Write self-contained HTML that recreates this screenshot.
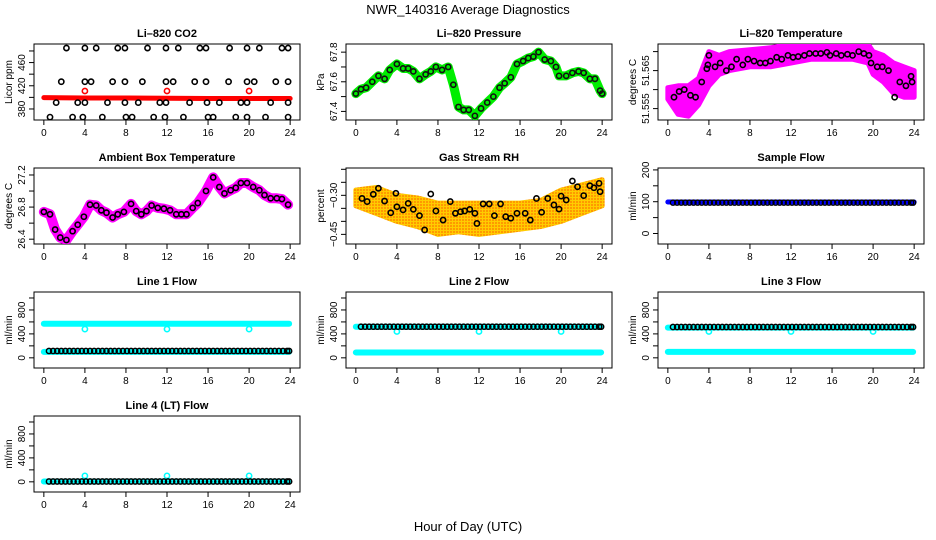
<!DOCTYPE html>
<html><head><meta charset="utf-8">
<style>
html,body{margin:0;padding:0;background:#fff;}
svg{display:block;font-family:"Liberation Sans",sans-serif;}
</style></head>
<body>
<svg id="chart" width="936" height="540" viewBox="0 0 936 540" xmlns="http://www.w3.org/2000/svg">
<defs>
<pattern id="rhpat" width="3" height="3" patternUnits="userSpaceOnUse">
<rect width="3" height="3" fill="#ffcc00"/><rect width="2" height="2" fill="#ff9900"/>
</pattern>
</defs>
<text x="468" y="14" font-size="13" text-anchor="middle">NWR_140316  Average Diagnostics</text>
<text x="468" y="531" font-size="13" text-anchor="middle">Hour of Day (UTC)</text>
</svg>
<script>
// ---------- data ----------
const hourTicks = [0,4,8,12,16,20,24];
// CO2
const co2Hours = [2.2,4.0,5.1,7.2,7.9,10.1,11.9,13.1,15.2,15.8,18.1,19.8,21.0,23.2,23.8,
 1.7,4.0,4.6,6.7,7.9,9.6,11.9,12.6,14.7,15.8,18.0,19.8,20.5,22.6,23.8,
 1.2,3.3,4.0,6.2,7.9,9.2,11.3,11.9,14.2,15.9,17.1,19.2,19.8,22.1,23.8,
 0.6,2.8,3.8,5.7,8.0,8.6,10.7,11.8,13.6,16.0,16.5,18.7,19.8,21.6,23.8];
const co2Values = [485,485,485,485,485,485,485,485,485,485,485,485,485,485,485,
 427,427,427,427,427,427,427,427,427,427,427,427,427,427,427,
 391,391,391,391,391,391,391,391,391,391,391,391,391,391,391,
 366,366,366,366,366,366,366,366,366,366,366,366,366,366,366];
const co2RedHours = [0,4,8,12,16,20,24];
const co2RedValues = [399.5,399,399,398.5,398,398,398];
const co2RedOutHours = [4,12,20];
const co2RedOutValues = [411,411,411];
// Pressure
const presHours = [0,0.5,1,1.6,2.2,2.8,3.3,4,4.6,5.1,5.6,6.2,6.8,7.3,7.8,8.4,9,9.5,10,10.5,11,11.6,12.2,12.8,13.4,14,14.5,15.1,15.7,16.3,16.8,17.3,17.8,18.4,19,19.5,19.8,20.5,21.1,21.7,22.2,22.8,23.3,23.8,24];
const presValues = [67.52,67.55,67.56,67.6,67.64,67.62,67.68,67.72,67.69,67.69,67.67,67.62,67.65,67.67,67.7,67.68,67.7,67.58,67.43,67.41,67.41,67.37,67.42,67.46,67.5,67.56,67.59,67.63,67.72,67.74,67.76,67.77,67.8,67.75,67.74,67.7,67.64,67.64,67.66,67.67,67.66,67.62,67.62,67.54,67.52];
// Li-820 temperature
const ltHours = [0.6,1.1,1.6,2.2,2.7,3.3,3.8,3.9,4,4.6,5.1,5.7,6.2,6.7,7.3,7.8,8.4,9,9.5,10,10.6,11.1,11.7,12.2,12.7,13.3,13.8,14.4,14.9,15.5,15.8,16.4,16.9,17.5,18,18.6,19.1,19.6,19.8,20.4,20.9,21.5,22.1,22.6,23.2,23.7,23.8];
const ltValues = [51.558,51.5595,51.560,51.5585,51.558,51.562,51.5655,51.5665,51.569,51.566,51.567,51.565,51.566,51.568,51.5665,51.568,51.5675,51.567,51.567,51.5675,51.5685,51.568,51.569,51.5685,51.5687,51.569,51.5695,51.5695,51.5695,51.5698,51.569,51.5695,51.569,51.5693,51.569,51.570,51.5695,51.569,51.567,51.566,51.566,51.565,51.558,51.562,51.561,51.5635,51.562];
const ltBandHours = [0,1,2,3,4,5,6,8,10,12,14,16,18,19.5,20,21,22,23,24];
const ltBandLo = [51.5575,51.5535,51.553,51.556,51.561,51.564,51.565,51.566,51.566,51.567,51.568,51.568,51.568,51.567,51.564,51.562,51.559,51.558,51.558];
const ltBandHi = [51.5605,51.561,51.561,51.563,51.570,51.569,51.570,51.5705,51.571,51.572,51.572,51.572,51.572,51.572,51.570,51.569,51.567,51.566,51.565];
// Ambient box temperature
const abHours = [0,0.6,1.1,1.6,2.2,2.8,3.3,3.9,4.5,5.1,5.6,6.1,6.7,7.2,7.8,8.5,9,9.5,10,10.5,11.1,11.7,12.3,12.9,13.4,13.9,14.5,15,15.8,16.5,17.1,17.6,18.2,18.7,19.2,19.8,20.4,21,21.5,22.1,22.7,23.2,23.8];
const abValues = [26.74,26.71,26.52,26.42,26.39,26.5,26.58,26.68,26.83,26.82,26.76,26.73,26.67,26.71,26.74,26.84,26.75,26.71,26.75,26.82,26.79,26.78,26.76,26.71,26.71,26.71,26.79,26.85,27.0,27.17,27.05,26.97,27.01,27.04,27.1,27.1,27.05,27.01,26.95,26.91,26.91,26.9,26.83];
// Gas stream RH
const rhHours = [0.6,1.1,1.7,2.2,2.8,3.4,3.9,4,4.6,5.1,5.6,6.2,6.7,7.3,7.8,8.5,9.2,9.7,10.2,10.6,11.1,11.6,11.8,12.4,13,13.5,14.1,14.6,15.1,15.7,16.5,17,17.6,18.1,18.7,19.3,19.8,20,20.5,21.1,21.6,22.2,22.8,23.2,23.7,23.8];
const rhValues = [-0.312,-0.324,-0.296,-0.273,-0.322,-0.367,-0.292,-0.344,-0.356,-0.331,-0.354,-0.378,-0.433,-0.295,-0.36,-0.395,-0.324,-0.369,-0.363,-0.36,-0.354,-0.369,-0.408,-0.333,-0.333,-0.378,-0.333,-0.382,-0.388,-0.369,-0.369,-0.395,-0.312,-0.365,-0.312,-0.337,-0.353,-0.303,-0.318,-0.245,-0.267,-0.301,-0.263,-0.271,-0.254,-0.286];
const rhBandHours = [0,2,4,6,8,10,12,14,16,18,20,22,24];
const rhBandLo = [-0.34,-0.37,-0.40,-0.42,-0.45,-0.44,-0.45,-0.44,-0.43,-0.42,-0.40,-0.37,-0.34];
const rhBandHi = [-0.28,-0.27,-0.30,-0.31,-0.33,-0.33,-0.33,-0.33,-0.33,-0.32,-0.28,-0.26,-0.24];
// Flows
const flowHours = [0.5,0.9,1.3,1.7,2.1,2.5,2.9,3.3,3.7,4.1,4.5,4.9,5.3,5.7,6.1,6.5,6.9,7.3,7.7,8.1,8.5,8.9,9.3,9.7,10.1,10.5,10.9,11.3,11.7,12.1,12.5,12.9,13.3,13.7,14.1,14.5,14.9,15.3,15.7,16.1,16.5,16.9,17.3,17.7,18.1,18.5,18.9,19.3,19.7,20.1,20.5,20.9,21.3,21.7,22.1,22.5,22.9,23.3,23.7,23.9];
const sampleBlack = 97, sampleBlue = 99;
const line1Black = 115, line1CyanHi = 570, line1CyanLo = 100, line1Out = 480;
const line2Black = 520, line2CyanHi = 520, line2CyanLo = 90, line2Out = 440;
const line3Black = 515, line3CyanHi = 505, line3CyanLo = 100, line3Out = 440;
const line4Black = 5, line4Cyan = 5, line4Out = 100;
const outlierHours = [4,12,20];

// ---------- helpers ----------
const NS = "http://www.w3.org/2000/svg";
const svg = document.getElementById("chart");
function mk(tag, attrs, parent){const e=document.createElementNS(NS,tag);for(const k in attrs)e.setAttribute(k,attrs[k]);(parent||svg).appendChild(e);return e;}

function panel(name, title, left, top, ymin, ymax, ticks, labels, ytitle){
  const W=266,H=76;
  const g=mk("g",{});
  
  
  const xs=h=>left+(h+0.96)/25.92*W;
  const ys=v=>top+H-(v-ymin)/(ymax-ymin)*H;
  const t=mk("text",{x:left+W/2,y:top-7,"font-size":"11","font-weight":"bold","text-anchor":"middle"},g);
  t.textContent=title;
  
  
  const box=mk("rect",{x:left,y:top,width:W,height:H,fill:"none",stroke:"#000","stroke-width":"1"},g);
  
  
  hourTicks.forEach(h=>{
    mk("line",{x1:xs(h),x2:xs(h),y1:top+H,y2:top+H+5,stroke:"#000"},g);
    const l=mk("text",{x:xs(h),y:top+H+16,"font-size":"10","text-anchor":"middle"},g);
    l.textContent=h;
    
    
  });
  ticks.forEach(v=>{
    const y=ys(v); if(y<top-0.5||y>top+H+0.5) return;
    mk("line",{x1:left-5,x2:left,y1:y,y2:y,stroke:"#000"},g);
  });
  labels.forEach(lb=>{
    const y=ys(lb.v);
    const l=mk("text",{x:0,y:0,"font-size":"10","text-anchor":"middle",transform:`translate(${left-9},${y}) rotate(-90)`},g);
    l.textContent=lb.t;
    
    
  });
  const yt=mk("text",{x:0,y:0,"font-size":"10","text-anchor":"middle",transform:`translate(${left-22},${top+H/2}) rotate(-90)`},g);
  yt.textContent=ytitle;
  
  
  const clip=mk("clipPath",{id:"c-"+name},g);
  mk("rect",{x:left,y:top,width:W,height:H},clip);
  const inner=mk("g",{"clip-path":`url(#c-${name})`},g);
  return {xs,ys,g:inner};
}
function circles(p, hs, vs, color, name, sw){
  hs.forEach((h,i)=>{
    const c=mk("circle",{cx:p.xs(h),cy:p.ys(vs[i]),r:2.6,fill:"none",stroke:color,"stroke-width":sw||1.6},p.g);
    
    
  });
}
function band(p, hs, lo, hi, fill, name){
  let d="M"+hs.map((h,i)=>p.xs(h)+","+p.ys(hi[i])).join("L");
  d+="L"+hs.slice().reverse().map((h,i)=>p.xs(h)+","+p.ys(lo[hs.length-1-i])).join("L")+"Z";
  const e=mk("path",{d,fill,stroke:fill,"stroke-width":"5","stroke-linejoin":"round"},p.g);
  
  
}
function thickLine(p, hs, vs, color, w, name){
  const e=mk("polyline",{points:hs.map((h,i)=>p.xs(h)+","+p.ys(vs[i])).join(" "),fill:"none",stroke:color,"stroke-width":w,"stroke-linejoin":"round","stroke-linecap":"round"},p.g);
  
  
}
const L1=34,L2=346,L3=658, T1=44,T2=168,T3=292,T4=416;
const flowTicks=[0,200,400,600,800,1000], flowLabels=[{v:0,t:"0"},{v:400,t:"400"},{v:800,t:"800"}];

// CO2
let p=panel("co2","Li\u2013820 CO2",L1,T1,361,492,[380,400,420,440,460,480],[{v:380,t:"380"},{v:420,t:"420"},{v:460,t:"460"}],"Licor ppm");
thickLine(p,co2RedHours,co2RedValues,"#ff0000",5,"co2-red-series");
circles(p,co2RedOutHours,co2RedOutValues,"#ff0000","co2-red-outlier");
circles(p,co2Hours,co2Values,"#000","co2-point");

// Pressure
p=panel("pressure","Li\u2013820 Pressure",L2,T1,67.342,67.855,[67.4,67.5,67.6,67.7,67.8],[{v:67.4,t:"67.4"},{v:67.6,t:"67.6"},{v:67.8,t:"67.8"}],"kPa");
thickLine(p,presHours,presValues,"#00ee00",9,"pressure-green-series");
circles(p,presHours,presValues,"#111","pressure-point");

// Li-820 temp
p=panel("li820-temp","Li\u2013820 Temperature",L3,T1,51.552,51.572,[51.555,51.56,51.565,51.57],[{v:51.555,t:"51.555"},{v:51.565,t:"51.565"}],"degrees C");
band(p,ltBandHours,ltBandLo,ltBandHi,"#ff00ff","li820-temp-magenta-series");
circles(p,ltHours,ltValues,"#000","li820-temp-point");

// Ambient
p=panel("ambient","Ambient Box Temperature",L1,T2,26.34,27.287,[26.4,26.6,26.8,27.0,27.2],[{v:26.4,t:"26.4"},{v:26.8,t:"26.8"},{v:27.2,t:"27.2"}],"degrees C");
thickLine(p,abHours,abValues,"#ff00ff",10,"ambient-magenta-series");
circles(p,abHours,abValues,"#000","ambient-point");

// RH
p=panel("rh","Gas Stream RH",L2,T2,-0.487,-0.195,[-0.45,-0.4,-0.35,-0.3,-0.25,-0.2],[{v:-0.45,t:"\u22120.45"},{v:-0.3,t:"\u22120.30"}],"percent");
band(p,rhBandHours,rhBandLo,rhBandHi,"url(#rhpat)","rh-orange-series");
circles(p,rhHours,rhValues,"#000","rh-point");

// Sample flow
p=panel("sample-flow","Sample Flow",L3,T2,-33,206,[0,50,100,150,200],[{v:0,t:"0"},{v:100,t:"100"},{v:200,t:"200"}],"ml/min");
thickLine(p,[0,24],[sampleBlue,sampleBlue],"#0000ff",5,"sample-flow-blue-series");
circles(p,flowHours,flowHours.map(()=>sampleBlack),"#000","sample-flow-point",1.3);

// Line flows
function flowPanel(name,title,left,top,black,cyanHi,cyanLo,out){
  const q=panel(name,title,left,top,-170,1100,flowTicks,flowLabels,"ml/min");
  if(cyanHi!==null) thickLine(q,[0,23.9],[cyanHi,cyanHi],"#00ffff",6,name+"-cyan-high");
  thickLine(q,[0,23.9],[cyanLo,cyanLo],"#00ffff",6,name+"-cyan-low");
  circles(q,outlierHours,outlierHours.map(()=>out),"#00ffff",name+"-cyan-outlier");
  circles(q,flowHours,flowHours.map(()=>black),"#000",name+"-point",1.5);
}
flowPanel("line1-flow","Line 1 Flow",L1,T3,line1Black,line1CyanHi,line1CyanLo,line1Out);
flowPanel("line2-flow","Line 2 Flow",L2,T3,line2Black,line2CyanHi,line2CyanLo,line2Out);
flowPanel("line3-flow","Line 3 Flow",L3,T3,line3Black,line3CyanHi,line3CyanLo,line3Out);
flowPanel("line4-flow","Line 4 (LT) Flow",L1,T4,line4Black,null,line4Cyan,line4Out);
</script>
</body></html>
